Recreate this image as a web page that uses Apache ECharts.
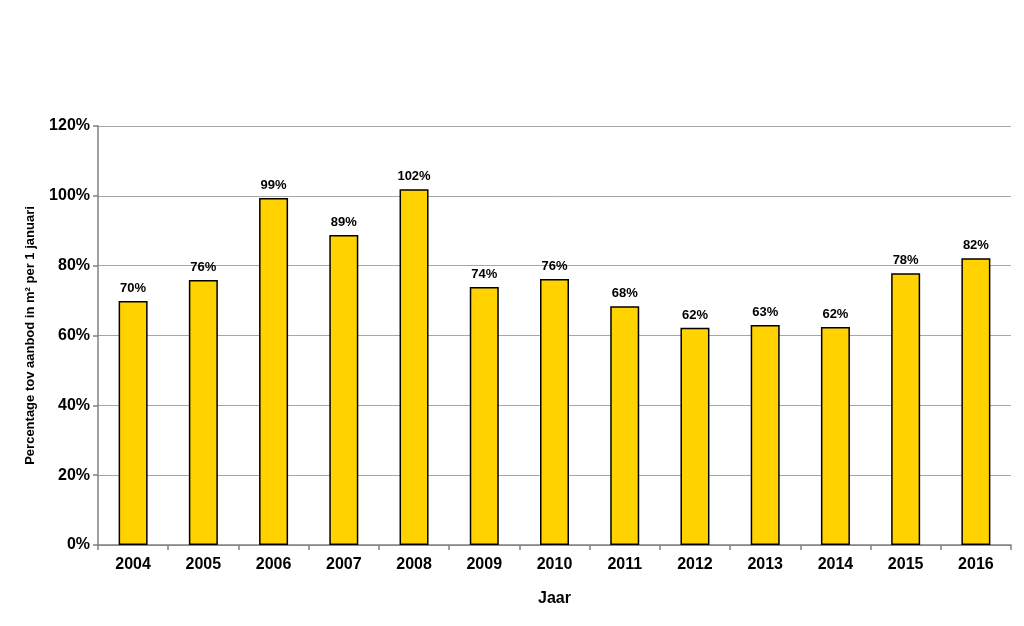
<!DOCTYPE html>
<html>
<head>
<meta charset="utf-8">
<script src="https://cdn.jsdelivr.net/npm/echarts@6/dist/echarts.min.js"></script>
<style>html,body{margin:0;padding:0;background:#fff;}#c{width:1024px;height:626px;}</style>
</head>
<body>
<div id="c"></div>
<script>
const categories = ['2004','2005','2006','2007','2008','2009','2010','2011','2012','2013','2014','2015','2016'];
const values = [69.9, 75.9, 99.4, 88.8, 101.9, 73.9, 76.2, 68.4, 62.2, 63.0, 62.4, 77.8, 82.1];
const yTicks = [0, 20, 40, 60, 80, 100, 120];

const chart = echarts.init(document.getElementById('c'));
const font = '"Liberation Sans", Arial, sans-serif';
chart.setOption({
  animation: false,
  backgroundColor: '#ffffff',
  grid: { left: 98, top: 126, right: 13, bottom: 81 },
  xAxis: {
    type: 'category',
    data: categories,
    name: 'Jaar',
    nameLocation: 'middle',
    nameGap: 46,
    nameTextStyle: { fontFamily: font, fontWeight: 'bold', fontSize: 16, color: '#000' },
    axisLine: { lineStyle: { color: '#808080', width: 1.5 } },
    axisTick: { show: true, alignWithLabel: false, length: 5, lineStyle: { color: '#808080', width: 1.5 } },
    axisLabel: { fontFamily: font, fontWeight: 'bold', fontSize: 16, color: '#000', margin: 12 }
  },
  yAxis: {
    type: 'value',
    min: yTicks[0],
    max: yTicks[yTicks.length - 1],
    interval: 20,
    name: 'Percentage tov aanbod in m² per 1 januari',
    nameLocation: 'middle',
    nameGap: 61,
    nameRotate: 90,
    nameTextStyle: { fontFamily: font, fontWeight: 'bold', fontSize: 13, color: '#000' },
    axisLine: { show: true, lineStyle: { color: '#808080', width: 1.5 } },
    axisTick: { show: true, length: 5, lineStyle: { color: '#808080', width: 1.5 } },
    axisLabel: { fontFamily: font, fontWeight: 'bold', fontSize: 16, color: '#000', margin: 8, formatter: v => v + '%' },
    splitLine: { show: true, lineStyle: { color: '#a6a6a6', width: 1 } }
  },
  series: [{
    type: 'bar',
    data: values,
    barWidth: 29,
    itemStyle: { color: '#FFD200', borderColor: '#000', borderWidth: 1.5 },
    label: {
      show: true,
      position: 'top',
      distance: 6,
      fontFamily: font,
      fontWeight: 'bold',
      fontSize: 13,
      color: '#000',
      formatter: p => Math.round(p.value) + '%'
    }
  }]
});
</script>
</body>
</html>
